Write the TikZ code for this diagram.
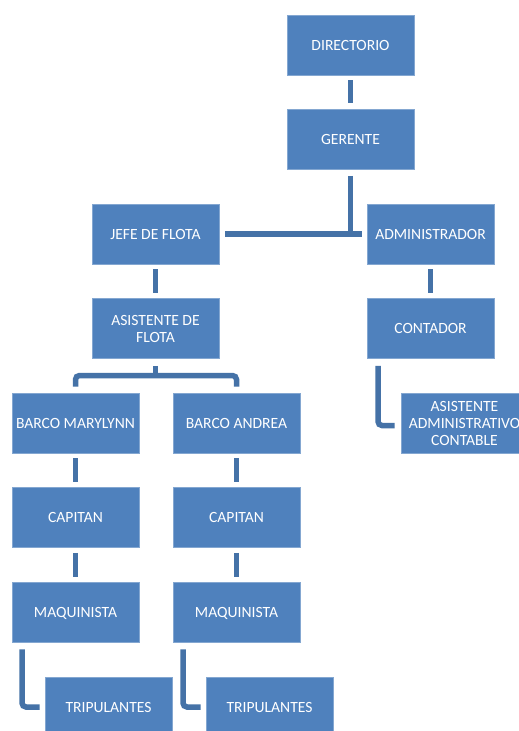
\documentclass[tikz,border=0pt]{standalone}
\usepackage{fontspec}
\setmainfont{Carlito}
\usetikzlibrary{calc}
\definecolor{boxblue}{RGB}{79,129,189}
\definecolor{linkblue}{RGB}{69,114,167}
\tikzset{
  orgbox/.style={fill=boxblue, draw=boxblue!70!white, line width=0.6pt,
    minimum width=127pt, minimum height=60pt, inner xsep=0pt, inner ysep=2pt,
    text=white, align=center, text depth=0pt,
    font=\fontsize{15.6}{17}\selectfont},
  conn/.style={draw=linkblue, line width=5.5pt},
}
\begin{document}
\begin{tikzpicture}[x=1pt,y=-1pt]
  \useasboundingbox (0,0) rectangle (519,731);
  \clip (0,0) rectangle (519,731);
  \fill[white] (0,0) rectangle (519,731);

  % boxes
  \node[orgbox] (dir)   at (350.5,45)  {DIRECTORIO};
  \node[orgbox] (ger)   at (350.5,139.5) {GERENTE};
  \node[orgbox] (jefe)  at (155.5,234) {JEFE DE FLOTA};
  \node[orgbox] (adm)   at (430.5,234) {ADMINISTRADOR};
  \node[orgbox] (af)    at (155.5,328.5) {ASISTENTE DE\\FLOTA};
  \node[orgbox] (cont)  at (430.5,328.5) {CONTADOR};
  \node[orgbox] (aac)   at (464.5,423) {ASISTENTE\\ADMINISTRATIVO\\CONTABLE};
  \node[orgbox] (bm)    at (75.5,423)  {BARCO MARYLYNN};
  \node[orgbox] (ba)    at (236.5,423) {BARCO ANDREA};
  \node[orgbox] (cap1)  at (75.5,517.5) {CAPITAN};
  \node[orgbox] (cap2)  at (236.5,517.5) {CAPITAN};
  \node[orgbox] (maq1)  at (75.5,612) {MAQUINISTA};
  \node[orgbox] (maq2)  at (236.5,612) {MAQUINISTA};
  \node[orgbox] (trip1) at (108.5,707) {TRIPULANTES};
  \node[orgbox] (trip2) at (269.5,707) {TRIPULANTES};

  % straight links
  \draw[conn] ([yshift=-5pt]dir.south) -- ([yshift=6pt]ger.north);
  \draw[conn] ([yshift=-5pt]jefe.south) -- ([yshift=5pt]af.north);
  \draw[conn] ([yshift=-5pt]adm.south) -- ([yshift=5pt]cont.north);
  \draw[conn] ([yshift=-5pt]bm.south) -- ([yshift=5pt]cap1.north);
  \draw[conn] ([yshift=-5pt]ba.south) -- ([yshift=5pt]cap2.north);
  \draw[conn] ([yshift=-5pt]cap1.south) -- ([yshift=5pt]maq1.north);
  \draw[conn] ([yshift=-5pt]cap2.south) -- ([yshift=5pt]maq2.north);

  % gerente to jefe de flota / administrador
  \draw[conn] ([xshift=6pt]jefe.east) -- ([xshift=-5pt]adm.west);
  \draw[conn] ([yshift=-6pt]ger.south) -- ([yshift=-2.5pt]ger.south |- jefe.east);

  % asistente de flota to the two boats
  \coordinate (bus) at (0,375.5);
  \draw[conn, rounded corners=4pt] ([yshift=6pt]bm.north) -- (bm.north |- bus)
    -- (ba.north |- bus) -- ([yshift=6pt]ba.north);
  \draw[conn] ([yshift=-7pt]af.south) -- (af.south |- bus);

  % side elbows
  \draw[conn, rounded corners=4pt] ([xshift=-52.5pt,yshift=-7pt]cont.south)
    |- ([xshift=-6pt,yshift=-2.5pt]aac.west);
  \draw[conn, rounded corners=4pt] ([xshift=-53.5pt,yshift=-7pt]maq1.south)
    |- ([xshift=-5pt]trip1.west);
  \draw[conn, rounded corners=4pt] ([xshift=-53.5pt,yshift=-7pt]maq2.south)
    |- ([xshift=-5pt]trip2.west);
\end{tikzpicture}
\end{document}
